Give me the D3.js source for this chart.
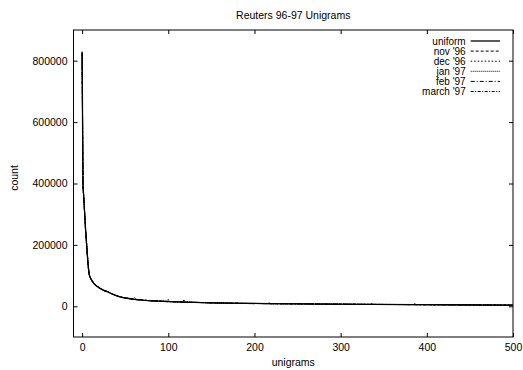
<!DOCTYPE html>
<html>
<head>
<meta charset="utf-8">
<script src="https://cdn.jsdelivr.net/npm/d3@7"></script>
<style>
  body { margin: 0; background: #fff; }
  svg { display: block; font-family: "Liberation Sans", Arial, Helvetica, sans-serif; }
  .axis text { font-size: 10.5px; fill: #000; }
  .axis line { stroke: #000; }
  .label { font-size: 10.5px; fill: #000; }
  .legend text { font-size: 10px; fill: #000; }
</style>
</head>
<body>
<svg width="523" height="370"></svg>
<script>
// unigram rank (x) shared by every series
var ranks = [0, 1, 2, 3, 4, 5, 6, 7, 8, 9,
  10, 12, 14, 16, 18, 20, 23, 26, 30, 35,
  40, 45, 50, 60, 61, 62, 70, 80, 90, 99,
  100, 101, 110, 117, 118, 119, 130, 150, 170, 190,
  216, 217, 218, 250, 279, 280, 281, 300, 335, 336,
  337, 385, 386, 387, 420, 460, 500];

var uniform = [825000, 395000, 350000, 300000, 250000, 210000, 170000, 135000, 105000, 97000,
  90000, 81000, 74000, 68000, 64000, 60000, 55000, 51000, 47000, 40000,
  34000, 30000, 27000, 23000, 22700, 22400, 20000, 18000, 16800, 15700,
  15600, 15500, 14500, 13900, 13800, 13700, 12800, 11300, 10300, 9500,
  8700, 8700, 8600, 8000, 7300, 7300, 7200, 6800, 6200, 6200,
  6200, 5500, 5500, 5400, 5000, 4300, 3600];

var nov96 = [830000, 385000, 355000, 295000, 255000, 205000, 172000, 130000, 108000, 95000,
  92000, 78000, 76000, 66000, 65000, 58000, 56000, 49000, 48000, 39000,
  35000, 29000, 27500, 22000, 22500, 21500, 20500, 17500, 17200, 15000,
  15900, 15200, 14800, 13500, 14200, 13000, 13100, 11000, 10600, 9200,
  8900, 8800, 8400, 8200, 7100, 12000, 7000, 6900, 6000, 6300,
  6000, 5300, 5600, 5300, 5100, 4200, 3700];

var dec96 = [820000, 400000, 345000, 305000, 245000, 215000, 165000, 140000, 102000, 99000,
  88000, 84000, 71000, 70000, 62000, 61000, 53000, 52000, 45000, 41000,
  33000, 31000, 26000, 24000, 23000, 22800, 19500, 18500, 16300, 16000,
  15300, 15800, 14200, 14000, 24000, 13500, 12500, 11600, 10000, 9800,
  8500, 8600, 8800, 7800, 7500, 7400, 7300, 6600, 6400, 6100,
  6300, 5700, 5400, 5500, 4800, 4400, 3500];

var jan97 = [828000, 390000, 352000, 298000, 252000, 208000, 174000, 132000, 106000, 96000,
  91000, 80000, 75000, 67000, 63000, 59000, 57000, 50000, 46000, 39500,
  35500, 29500, 28000, 22500, 22000, 23000, 20200, 17800, 17000, 15500,
  24000, 15600, 14700, 13700, 13900, 13800, 13000, 11200, 10400, 9300,
  8800, 8500, 8700, 8100, 7200, 7400, 7100, 7000, 6100, 11000,
  6100, 5600, 5500, 5300, 5100, 4300, 3700];

var feb97 = [822000, 398000, 348000, 302000, 248000, 212000, 168000, 138000, 104000, 98000,
  89000, 82000, 73000, 69000, 63500, 60500, 54000, 51500, 47500, 40500,
  33500, 30500, 26500, 23500, 28000, 22000, 19800, 18200, 16500, 15800,
  15500, 15400, 14400, 13800, 13600, 13900, 12700, 11400, 10200, 9600,
  8600, 8800, 8500, 7900, 7300, 7200, 7400, 6700, 6300, 6200,
  6200, 5400, 9500, 5400, 4900, 4200, 3500];

var march97 = [826000, 392000, 351000, 301000, 249000, 211000, 171000, 134000, 107000, 97500,
  90500, 79000, 74500, 67500, 64500, 59500, 55500, 50500, 47000, 40000,
  34500, 30000, 27500, 23200, 22600, 22500, 20100, 17900, 16900, 15600,
  15700, 15300, 14600, 14000, 13700, 13600, 12900, 11300, 10300, 9400,
  8700, 14000, 8600, 8100, 7300, 7300, 7200, 6800, 6200, 6200,
  6200, 5500, 5500, 5400, 5000, 4300, 3600];

var seriesNames = ["uniform", "nov '96", "dec '96", "jan '97", "feb '97", "march '97"];
var seriesValues = [uniform, nov96, dec96, jan97, feb97, march97];
var dashes = [null, "3,2", "1.5,2", "1,1", "4,2,1,2", "3,1.5,1,1.5"];
var widths = [1.3, 1, 1, 1, 1, 1];

var xTicks = [0, 100, 200, 300, 400, 500];
var yTicks = [0, 200000, 400000, 600000, 800000];

(function() {
  var svg = d3.select("svg");
  var plotLeft = 73.5, plotRight = 513, plotTop = 30, plotBottom = 337;

  var x = d3.scaleLinear().domain([-10, 500]).range([plotLeft, plotRight]);
  var y = d3.scaleLinear().domain([-100000, 900000]).range([plotBottom, plotTop]);

  // axes with inward ticks, mirrored on top and right
  svg.append("g")
      .attr("class", "axis")
      .attr("transform", "translate(0," + plotBottom + ")")
      .call(d3.axisBottom(x).tickValues(xTicks).tickSize(-4).tickPadding(6.5).tickFormat(d3.format("d")));
  svg.append("g")
      .attr("class", "axis")
      .attr("transform", "translate(0," + plotTop + ")")
      .call(d3.axisTop(x).tickValues(xTicks).tickSize(-4).tickFormat(""));
  svg.append("g")
      .attr("class", "axis")
      .attr("transform", "translate(" + plotLeft + ",0)")
      .call(d3.axisLeft(y).tickValues(yTicks).tickSize(-4).tickPadding(6).tickFormat(d3.format("d")));
  svg.append("g")
      .attr("class", "axis")
      .attr("transform", "translate(" + plotRight + ",0)")
      .call(d3.axisRight(y).tickValues(yTicks).tickSize(-4).tickFormat(""));

  svg.selectAll(".axis .domain").remove();

  svg.append("rect")
      .attr("x", plotLeft)
      .attr("y", plotTop)
      .attr("width", plotRight - plotLeft)
      .attr("height", plotBottom - plotTop)
      .attr("fill", "none")
      .attr("stroke", "#000")
      .attr("stroke-width", 1);

  var line = d3.line()
      .x(function(d) { return x(d[0]); })
      .y(function(d) { return y(d[1]); });

  var plot = svg.append("g");
  for (var i = seriesValues.length - 1; i >= 0; i--) {
    plot.append("path")
        .datum(d3.zip(ranks, seriesValues[i]))
        .attr("fill", "none")
        .attr("stroke", "#000")
        .attr("stroke-width", widths[i])
        .attr("stroke-dasharray", dashes[i])
        .attr("d", line);
  }

  // legend
  var legend = svg.append("g").attr("class", "legend");
  seriesNames.forEach(function(name, i) {
    var cy = 41 + i * 10.1;
    legend.append("text")
        .attr("x", 465.7)
        .attr("y", cy)
        .attr("dy", "0.35em")
        .attr("text-anchor", "end")
        .text(name);
    legend.append("line")
        .attr("x1", 470.7)
        .attr("x2", 500)
        .attr("y1", cy)
        .attr("y2", cy)
        .attr("stroke", "#000")
        .attr("stroke-width", widths[i])
        .attr("stroke-dasharray", dashes[i]);
  });

  svg.append("text")
      .attr("class", "label")
      .attr("x", (plotLeft + plotRight) / 2)
      .attr("y", 18.5)
      .attr("text-anchor", "middle")
      .text("Reuters 96-97 Unigrams");

  svg.append("text")
      .attr("class", "label")
      .attr("x", (plotLeft + plotRight) / 2)
      .attr("y", 366)
      .attr("text-anchor", "middle")
      .text("unigrams");

  svg.append("text")
      .attr("class", "label")
      .attr("transform", "translate(18,178) rotate(-90)")
      .attr("text-anchor", "middle")
      .text("count");
})();
</script>
</body>
</html>
